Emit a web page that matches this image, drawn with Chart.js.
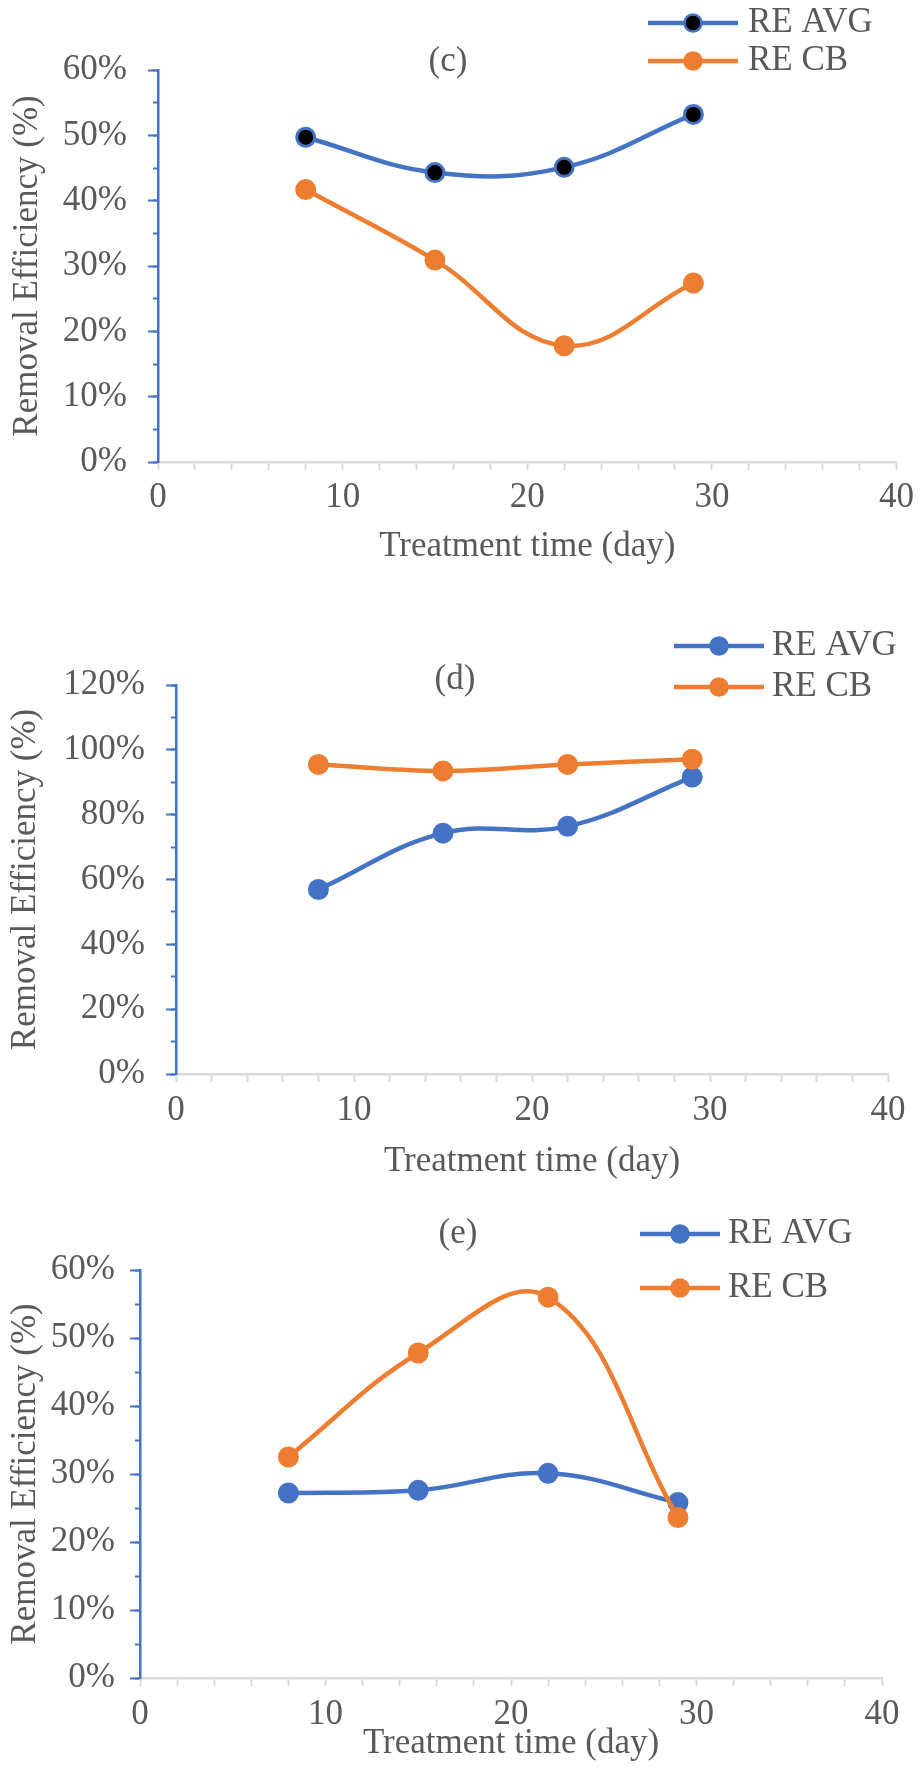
<!DOCTYPE html>
<html>
<head>
<meta charset="utf-8">
<script src="https://cdn.jsdelivr.net/npm/chart.js@4.4.1/dist/chart.umd.min.js"></script>
<style>
  body { margin: 0; background: #fff; width: 921px; height: 1767px; position: relative; overflow: hidden; }
  .panel { position: absolute; left: 0; width: 921px; }
</style>
</head>
<body>
<div class="panel" style="top:0;height:580px"><canvas id="chartC"></canvas></div>
<div class="panel" style="top:590px;height:610px"><canvas id="chartD"></canvas></div>
<div class="panel" style="top:1180px;height:587px"><canvas id="chartE"></canvas></div>
<script>
const days = [8, 15, 22, 29];
const xLabelled = [0, 10, 20, 30, 40];
const seriesNames = ['RE AVG', 'RE CB'];
const xTitle = 'Treatment time (day)';
const yTitle = 'Removal Efficiency (%)';

// (c)
const avgC = [49.7, 44.3, 45.1, 53.2];
const cbC = [41.7, 30.9, 17.8, 27.4];
// (d)
const avgD = [56.9, 74.3, 76.4, 91.6];
const cbD = [95.5, 93.5, 95.5, 97.1];
// (e)
const avgE = [27.2, 27.6, 30.1, 25.8];
const cbE = [32.5, 47.8, 56.0, 23.6];

const blue = '#4472C4';
const orange = '#ED7D31';
const textColor = '#595959';
const axisGrey = '#D9D9D9';
const family = "'Liberation Serif', 'Times New Roman', serif";
const font = { family: family, size: 35 };

// panel letter and the Excel-style legend (line + marker)
const panelDecor = {
  id: 'panelDecor',
  afterDraw(chart, args, o) {
    const ctx = chart.ctx;
    ctx.save();
    ctx.font = font.size + 'px ' + family;
    ctx.fillStyle = textColor;
    ctx.textBaseline = 'middle';
    ctx.textAlign = 'center';
    ctx.fillText(o.title, o.titleX, o.titleY);
    chart.data.datasets.forEach((ds, i) => {
      const y = o.legendY + i * o.legendGap;
      ctx.strokeStyle = ds.borderColor;
      ctx.lineWidth = 4.5;
      ctx.beginPath();
      ctx.moveTo(o.legendX, y);
      ctx.lineTo(o.legendX + o.lineLen, y);
      ctx.stroke();
      ctx.beginPath();
      ctx.arc(o.legendX + o.lineLen / 2, y, 8.5, 0, Math.PI * 2);
      ctx.fillStyle = ds.pointBackgroundColor;
      ctx.fill();
      ctx.lineWidth = 2.5;
      ctx.strokeStyle = ds.pointBorderColor;
      ctx.stroke();
      ctx.fillStyle = textColor;
      ctx.textAlign = 'left';
      ctx.fillText(ds.label, o.legendX + o.lineLen + o.textGap, y);
    });
    ctx.restore();
  }
};

function series(label, vals, color, fill, order) {
  return {
    label: label,
    data: days.map((d, i) => ({ x: d, y: vals[i] })),
    borderColor: color,
    borderWidth: 4.5,
    pointBackgroundColor: fill,
    pointBorderColor: color,
    pointBorderWidth: 3,
    pointRadius: 9,
    tension: 0.4,
    order: order
  };
}

function panel(id, avg, cb, avgFill, yMax, yStep, g, decor) {
  new Chart(document.getElementById(id), {
    type: 'line',
    data: {
      datasets: [
        series(seriesNames[0], avg, blue, avgFill, 1),
        series(seriesNames[1], cb, orange, orange, 0)
      ]
    },
    plugins: [panelDecor],
    options: {
      responsive: true,
      maintainAspectRatio: false,
      animation: false,
      layout: { padding: { top: g.top, right: g.right, left: 0, bottom: 0 } },
      plugins: {
        legend: { display: false },
        tooltip: { enabled: false },
        panelDecor: decor
      },
      scales: {
        x: {
          type: 'linear', min: 0, max: 40,
          ticks: {
            stepSize: 2, autoSkip: false, maxRotation: 0,
            callback: v => xLabelled.includes(v) ? String(v) : '',
            color: textColor, font: font, padding: g.xTickPad
          },
          grid: { drawOnChartArea: false, color: axisGrey, tickLength: 8, tickWidth: 2 },
          border: { color: axisGrey, width: 2.5 },
          title: { display: true, text: xTitle, color: textColor, font: font, padding: { top: 0, bottom: g.xTitlePad } },
          afterFit: s => { s.height = g.xHeight; }
        },
        y: {
          min: 0, max: yMax, weight: 1,
          ticks: { stepSize: yStep, callback: v => v + '%', color: textColor, font: font, padding: g.yTickPad },
          grid: { drawOnChartArea: false, color: blue, tickLength: 10, tickWidth: 2 },
          border: { color: blue, width: 2.5 },
          title: { display: true, text: yTitle, color: textColor, font: font, padding: { top: g.yTitlePad, bottom: 0 } },
          afterFit: s => { s.width = g.left; }
        },
        yMinor: {
          position: 'left', min: 0, max: yMax, weight: 0,
          ticks: { display: false, stepSize: yStep / 2 },
          grid: { drawOnChartArea: false, color: blue, tickLength: 5, tickWidth: 2 },
          border: { display: false },
          afterFit: s => { s.width = 0; }
        }
      }
    }
  });
}

panel('chartC', avgC, cbC, '#000000', 60, 10,
  { left: 158, right: 19, top: 70, xHeight: 118, xTickPad: 7, xTitlePad: 12, yTickPad: 21, yTitlePad: 7 },
  { title: '(c)', titleX: 448, titleY: 62, legendX: 648, lineLen: 90, textGap: 10, legendY: 23, legendGap: 38 });

panel('chartD', avgD, cbD, blue, 120, 20,
  { left: 176, right: 33, top: 95, xHeight: 126, xTickPad: 8, xTitlePad: 17, yTickPad: 21, yTitlePad: 5 },
  { title: '(d)', titleX: 455, titleY: 90, legendX: 674, lineLen: 90, textGap: 8, legendY: 56, legendGap: 41 });

panel('chartE', avgE, cbE, blue, 60, 10,
  { left: 140, right: 39, top: 90, xHeight: 89, xTickPad: 8, xTitlePad: 2, yTickPad: 15, yTitlePad: 5 },
  { title: '(e)', titleX: 458, titleY: 54, legendX: 640, lineLen: 80, textGap: 8, legendY: 54, legendGap: 54 });
</script>
</body>
</html>
